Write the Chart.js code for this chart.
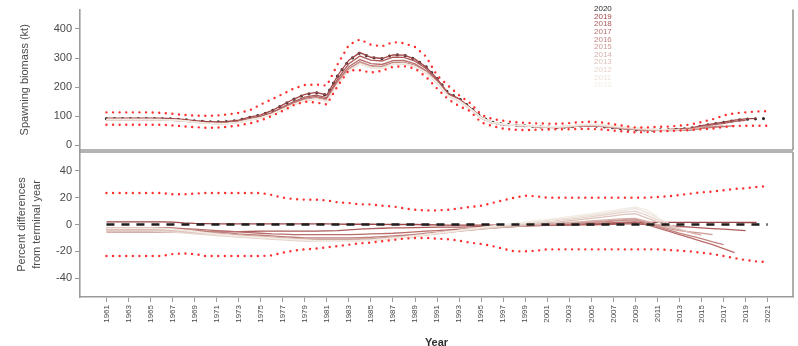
<!DOCTYPE html>
<html>
<head>
<meta charset="utf-8">
<script src="https://cdn.jsdelivr.net/npm/chart.js@4.4.1/dist/chart.umd.min.js"></script>
<style>
  html, body { margin: 0; padding: 0; background: #fff; overflow: hidden; }
  #wrap { position: relative; width: 798px; height: 346px; }
  canvas { position: absolute; left: 0; top: 0; }
</style>
</head>
<body>
<div id="wrap">
  <canvas id="ssbChart" width="798" height="346"></canvas>
  <canvas id="pctChart" width="798" height="346"></canvas>
</div>
<script>
// ---- data ---------------------------------------------------------------
const years = [1961,1962,1963,1964,1965,1966,1967,1968,1969,1970,
  1971,1972,1973,1974,1975,1976,1977,1978,1979,1980,
  1981,1982,1983,1984,1985,1986,1987,1988,1989,1990,
  1991,1992,1993,1994,1995,1996,1997,1998,1999,2000,
  2001,2002,2003,2004,2005,2006,2007,2008,2009,2010,
  2011,2012,2013,2014,2015,2016,2017,2018,2019,2020,2021];

// terminal (2020) assessment, spawning biomass in kt
const ssb2020 = [91,91,91,91,91,91,90,88,84,81,
  80,81,86,96,104,118,138,158,174,181,
  172,240,292,318,302,298,311,310,296,270,
  230,180,160,130,97,79,72,69,67,64,
  62,61,63,66,67,64,60,56,53,52,
  52,53,55,58,66,72,78,85,89,91,92];
const ssbUpper = [113,113,113,113,113,111,108,104,102,101,
  102,106,111,120,140,158,176,195,207,209,
  205,280,345,364,346,340,355,351,338,305,
  240,205,172,145,105,90,84,79,77,75,
  74,74,76,79,81,78,72,66,61,61,
  63,64,67,71,80,89,102,110,113,116,117];
const ssbLower = [70,70,70,70,70,70,68,65,62,60,
  60,63,68,75,85,100,118,138,150,147,
  140,205,258,258,250,256,270,272,264,235,
  195,158,135,117,78,66,57,53,52,53,
  54,55,55,56,56,54,50,47,44,45,
  47,49,50,52,55,57,62,66,67,67,67];

// percent-difference envelope around the terminal run
const pctUpper = [23.5,23.5,23.5,23.5,23.5,23.5,22.5,22.5,23,23.5,
  23.5,23.5,23.5,23.5,23.5,22,20,19,18.5,18.5,
  18,16.5,16,15,15,14,13.5,12,11,10.5,
  10.5,11,12,13,14,16,18,20,21.5,21,
  20,20,20,20,20,20,20,20,20,20,
  20.5,21,22,23,24,24.5,25.5,26.5,27,28,28.5];
const pctLower = [-23.5,-23.5,-23.5,-23.5,-23.5,-23.5,-22,-21.5,-22,-23.5,
  -23.5,-23.5,-23.5,-23.5,-23.5,-23,-21,-19.5,-18.5,-18,
  -17,-16,-15,-14,-13.5,-12.5,-11.5,-10.5,-10,-10,
  -10.5,-11,-12,-13.5,-14.5,-16,-18,-20,-20,-19.5,
  -18.5,-18.5,-18.5,-18.5,-18.5,-18.5,-18.5,-18.5,-18.5,-18.5,
  -18.5,-19,-19.5,-20,-21,-22,-23.5,-25,-26.5,-27.5,-28];

// earlier runs: percent difference from the terminal run, 1961 onwards
const pct2019 = [2,2,2,2,2,2,1.8,1.2,0.8,0.6,
  0.5,0.5,0.5,0.5,0.5,0.5,0.5,0.5,0.5,0.5,
  0.4,0.3,0.2,0.2,0.2,0.1,0,0,0,-0.2,
  -0.3,-0.4,-0.5,-0.5,-0.5,-0.5,-0.5,-0.5,-0.4,-0.3,
  -0.2,-0.1,0,0.2,0.4,0.6,0.9,1.2,1.5,1.6,
  1.6,1.6,1.6,1.6,1.6,1.6,1.6,1.6,1.5,1.5];
const pct2018 = [-5.5,-5.5,-5.5,-5.5,-5.5,-5.5,-5.5,-5.5,-5.5,-5.5,
  -5.5,-5.5,-5.3,-5.2,-5,-5,-5,-5,-5,-5,
  -4.8,-4.5,-4,-3.5,-3,-2.8,-2.5,-2.5,-2.3,-2.2,
  -2,-2,-2,-1.8,-1.5,-1.5,-1.2,-1,-1,-0.8,
  -0.6,-0.5,-0.4,-0.3,-0.2,0,0.2,0.4,0.5,0,
  -0.5,-1,-1.5,-2,-2.5,-3,-3.5,-4,-4.5];
const pct2017 = [-2.3,-2.3,-2.3,-2.3,-2.3,-2.4,-2.6,-3,-3.5,-4,
  -4.5,-5,-5.5,-6,-6.5,-7,-7.2,-7.5,-7.5,-7.5,
  -7.5,-7.5,-7.5,-7.3,-7,-6.8,-6.5,-6,-5.5,-5,
  -4.5,-4,-3.5,-3,-2.5,-2,-1.5,-1.2,-1,-0.8,
  -0.5,-0.3,0,0.3,0.6,1,1.4,1.8,2,0,
  -2.5,-5,-7.5,-10,-12.5,-15,-18,-21];
const pct2016 = [-3,-3,-3,-3,-3,-3.1,-3.3,-3.8,-4.3,-5,
  -5.5,-6.2,-7,-7.5,-8,-8.5,-9,-9.5,-10,-10,
  -10,-10,-10,-9.8,-9.5,-9,-8.5,-8,-7.3,-6.5,
  -5.8,-5,-4.3,-3.6,-3,-2.5,-2,-1.5,-1,-0.5,
  0,0.4,0.8,1.2,1.6,2,2.5,3,3.5,1,
  -1.5,-4,-6.5,-8.5,-10.5,-13,-15];
const pct2015 = [-3.5,-3.5,-3.5,-3.5,-3.5,-3.6,-3.9,-4.5,-5.2,-6,
  -6.5,-7.2,-8,-8.5,-9,-9.5,-10,-10.5,-11,-11,
  -11,-11,-11,-10.8,-10.5,-10,-9.5,-8.8,-8,-7.2,
  -6.4,-5.6,-4.8,-4,-3.3,-2.7,-2.1,-1.5,-1,-0.5,
  0,0.5,1,1.5,2,2.5,3,3.5,4,1.5,
  -1,-3,-4.5,-5.5,-6.5,-7.5];
const pct2014 = [-4,-4,-4,-4,-4,-4.1,-4.4,-5,-5.8,-6.5,
  -7,-7.8,-8.5,-9,-9.5,-10,-10.5,-11,-11.5,-11.5,
  -11.5,-11.5,-11.5,-11.3,-11,-10.5,-10,-9.3,-8.5,-7.6,
  -6.8,-5.9,-5,-4.2,-3.4,-2.7,-2,-1.3,-0.6,0,
  0.5,1,1.5,2,2.6,3.2,3.8,4.3,4.5,2.5,
  0,-2,-4,-6,-8];
const pct2013 = [-4.5,-4.5,-4.5,-4.5,-4.5,-4.6,-5,-5.5,-6.3,-7,
  -7.6,-8.3,-9,-9.5,-10,-10.5,-11,-11.5,-12,-12,
  -12,-12,-12,-11.8,-11.5,-11,-10.4,-9.6,-8.8,-7.9,
  -7,-6,-5,-4.2,-3.3,-2.5,-1.7,-0.9,-0.2,0.5,
  1.2,2,2.8,3.6,4.5,5.5,6.5,7.5,8,5,
  2,-1,-3.5,-6];
const pct2012 = [-5,-5,-5,-5,-5,-5.2,-5.6,-6.2,-7,-7.6,
  -8.2,-8.8,-9.4,-10,-10.5,-11,-11.5,-12,-12.3,-12.5,
  -12.5,-12.5,-12.5,-12.2,-11.8,-11.2,-10.5,-9.7,-8.8,-7.8,
  -6.8,-5.8,-4.8,-3.8,-2.9,-2,-1.1,-0.3,0.5,1.3,
  2.1,3,3.9,4.8,5.8,6.9,8,9.2,10,7,
  3.5,0,-3];
const pct2011 = [-2.5,-2.5,-2.5,-2.5,-2.5,-2.7,-3.2,-4,-5,-6,
  -7,-7.8,-8.5,-9,-9.5,-10,-10.5,-11,-11.5,-12,
  -12,-12,-12,-11.8,-11.4,-10.8,-10,-9.2,-8.3,-7.3,
  -6.3,-5.3,-4.3,-3.3,-2.4,-1.5,-0.6,0.3,1.2,2.1,
  3,3.9,4.8,5.8,6.9,8,9.3,10.6,12,9,
  5,1];
const pct2010 = [-3,-3,-3,-3,-3,-3.3,-3.8,-4.6,-5.5,-6.5,
  -7.3,-8,-8.7,-9.2,-9.7,-10.2,-10.7,-11.2,-11.7,-12.2,
  -12.5,-12.5,-12.5,-12.2,-11.8,-11.2,-10.4,-9.5,-8.5,-7.5,
  -6.5,-5.4,-4.3,-3.2,-2.2,-1.2,-0.2,0.8,1.8,2.8,
  3.8,4.8,5.8,6.9,8,9.2,10.5,11.8,13,11,
  6];

const runYears = [2020,2019,2018,2017,2016,2015,2014,2013,2012,2011,2010];
const retroPct = [pct2019,pct2018,pct2017,pct2016,pct2015,pct2014,pct2013,pct2012,pct2011,pct2010];
const yTicksSsb = [0,100,200,300,400];
const yTicksPct = [-40,-20,0,20,40];
const xTickYears = [1961,1963,1965,1967,1969,1971,1973,1975,1977,1979,1981,1983,1985,1987,1989,
  1991,1993,1995,1997,1999,2001,2003,2005,2007,2009,2011,2013,2015,2017,2019,2021];

// ---- styling ------------------------------------------------------------
const runColors = ['#2a2a2a','#a04646','#ad5a5a','#b86d6b','#c2837f','#cc9a94','#d5afa9',
  '#dec3bc','#e6d5cd','#ede3db','#f2ece4'];
const ciColor = '#ff2e2e';
const frameColor = '#9a9a9a';
const FONT = '"Liberation Sans", Arial, sans-serif';
Chart.defaults.font.family = FONT;
Chart.defaults.color = '#4a4a4a';

const pts = (vals) => vals.map((v, i) => ({ x: years[i], y: v }));
const xRange = { min: 1958.6, max: 2023.3 };

// frame lines around each panel
const framePlugin = {
  id: 'panelFrame',
  afterDraw(chart, args, opts) {
    const { ctx, chartArea: a } = chart;
    ctx.save();
    ctx.strokeStyle = frameColor;
    ctx.lineWidth = 1.6;
    ctx.beginPath();
    if (opts.top) { ctx.moveTo(a.left, a.top); ctx.lineTo(a.right, a.top); }
    ctx.moveTo(a.right, a.top); ctx.lineTo(a.right, a.bottom);
    if (opts.bottom) { ctx.moveTo(a.left, a.bottom); ctx.lineTo(a.right, a.bottom); }
    ctx.stroke();
    ctx.restore();
  }
};

// list of assessment years, coloured like their runs
const runLegend = {
  id: 'runLegend',
  afterDraw(chart) {
    const ctx = chart.ctx;
    ctx.save();
    ctx.font = '8px ' + FONT;
    ctx.textAlign = 'left';
    ctx.textBaseline = 'middle';
    runYears.forEach((yr, i) => {
      ctx.fillStyle = runColors[i];
      ctx.fillText(String(yr), 594, 9 + i * 7.6);
    });
    ctx.restore();
  }
};

function yAxis(min, max, ticks, title, titlePad, lineHeight) {
  return {
    min, max,
    afterBuildTicks: (s) => { s.ticks = ticks.map(v => ({ value: v })); },
    afterFit: (s) => { s.width = 80; },
    ticks: { color: '#4a4a4a', font: { size: 11 }, padding: 3, callback: v => String(v) },
    grid: { drawOnChartArea: false, drawTicks: true, tickLength: 5, color: frameColor, tickWidth: 1 },
    border: { display: true, color: frameColor, width: 1.6 },
    title: { display: true, text: title, color: '#4a4a4a', font: { size: 11, lineHeight }, padding: { top: titlePad, bottom: 0 } }
  };
}

// ---- top panel: spawning biomass --------------------------------------
const ssbSets = [
  { data: pts(ssbUpper), borderColor: ciColor, borderWidth: 2.4, borderDash: [0, 6.6], borderCapStyle: 'round' },
  { data: pts(ssbLower), borderColor: ciColor, borderWidth: 2.4, borderDash: [0, 6.6], borderCapStyle: 'round' }
];
for (let k = retroPct.length - 1; k >= 0; k--) {
  // biomass of an earlier run, rebuilt from its difference to the terminal run
  const vals = retroPct[k].map((p, i) => ssb2020[i] * (1 + p / 100));
  ssbSets.push({ data: pts(vals), borderColor: runColors[k + 1], borderWidth: 1.3 });
}
ssbSets.push({ data: pts(ssb2020), borderColor: '#2e2e2e', borderWidth: 3.2, borderDash: [0, 8], borderCapStyle: 'round' });

new Chart(document.getElementById('ssbChart'), {
  type: 'line',
  data: { datasets: ssbSets },
  options: {
    responsive: false, animation: false,
    layout: { padding: { left: 0, right: 5, top: 6, bottom: 196 } },
    elements: { point: { radius: 0 }, line: { tension: 0 } },
    plugins: { legend: { display: false }, tooltip: { enabled: false }, panelFrame: { top: false, bottom: true } },
    scales: {
      x: { type: 'linear', min: xRange.min, max: xRange.max, display: false },
      y: yAxis(-16.7, 466.7, yTicksSsb, 'Spawning biomass (kt)', 18.4, 1.2)
    }
  },
  plugins: [framePlugin, runLegend]
});

// ---- bottom panel: percent differences --------------------------------
const pctSets = [
  { data: pts(pctUpper), borderColor: ciColor, borderWidth: 2.4, borderDash: [0, 6.6], borderCapStyle: 'round' },
  { data: pts(pctLower), borderColor: ciColor, borderWidth: 2.4, borderDash: [0, 6.6], borderCapStyle: 'round' },
  { data: pts(years.map(() => 0)), borderColor: '#1e1e1e', borderWidth: 2.4, borderDash: [8, 7] }
];
for (let k = retroPct.length - 1; k >= 0; k--) {
  pctSets.push({ data: pts(retroPct[k]), borderColor: runColors[k + 1], borderWidth: 1.3 });
}

new Chart(document.getElementById('pctChart'), {
  type: 'line',
  data: { datasets: pctSets },
  options: {
    responsive: false, animation: false,
    layout: { padding: { left: 0, right: 5, top: 152, bottom: 0 } },
    elements: { point: { radius: 0 }, line: { tension: 0 } },
    plugins: { legend: { display: false }, tooltip: { enabled: false }, panelFrame: { top: true, bottom: false } },
    scales: {
      x: {
        type: 'linear', min: xRange.min, max: xRange.max,
        afterBuildTicks: (s) => { s.ticks = xTickYears.map(v => ({ value: v })); },
        afterFit: (s) => { s.height = 49; },
        ticks: { autoSkip: false, minRotation: 90, maxRotation: 90, font: { size: 8 }, color: '#4a4a4a', padding: 3, callback: v => String(v) },
        grid: { drawOnChartArea: false, drawTicks: true, tickLength: 5, color: frameColor },
        border: { display: true, color: frameColor, width: 1.6 },
        title: { display: true, text: 'Year', color: '#2e2e2e', font: { size: 11, weight: 'bold' }, padding: { top: 0, bottom: -4 } }
      },
      y: yAxis(-54, 54, yTicksPct, ['Percent differences', 'from terminal year'], 14.6, 1.35)
    }
  },
  plugins: [framePlugin]
});
</script>
</body>
</html>
